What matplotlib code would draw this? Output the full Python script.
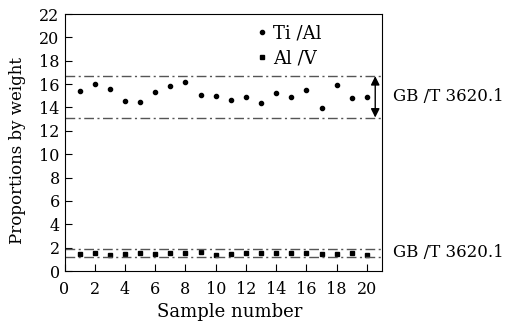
import numpy as np
import matplotlib
matplotlib.use("Agg")
import matplotlib.pyplot as plt

# sample numbers and measured ratios
sample = np.arange(1, 21)
ti_al = [15.45, 16.0, 15.54, 14.57, 14.48, 15.34, 15.83, 16.22, 15.11, 15.02,
         14.68, 14.91, 14.34, 15.28, 14.88, 15.51, 13.99, 15.96, 14.8, 14.88]
al_v = [1.46, 1.57, 1.40, 1.46, 1.54, 1.43, 1.54, 1.51, 1.66, 1.34,
        1.43, 1.51, 1.51, 1.51, 1.51, 1.51, 1.46, 1.43, 1.51, 1.40]

# standard limits (GB/T 3620.1)
ti_al_lim = [13.14, 16.68]
al_v_lim = [1.2, 1.89]
std_label = "GB /T 3620.1"

plt.rcParams['font.family'] = ['DejaVu Serif']
fig = plt.figure(figsize=(5.06, 3.26), dpi=100)
ax = fig.add_axes([0.1275, 0.1687, 0.6275, 0.7883])

ax.plot(sample, ti_al, 'o', color='black', markersize=3, label='Ti /Al')
ax.plot(sample, al_v, 's', color='black', markersize=2.8, label='Al /V')

for lim in ti_al_lim + al_v_lim:
    ax.axhline(lim, color='#555555', lw=1, linestyle=(0, (7, 2.5, 1.5, 2.5)))

# double arrow showing the Ti/Al range
ax.annotate('', xy=(20.55, ti_al_lim[1]), xytext=(20.55, ti_al_lim[0]),
            arrowprops=dict(arrowstyle='<|-|>', color='black', lw=1,
                            mutation_scale=13, shrinkA=0, shrinkB=0))

ax.text(1.035, np.mean(ti_al_lim) / 22, std_label, transform=ax.transAxes,
        va='center', ha='left', fontsize=12)
ax.text(1.035, np.mean(al_v_lim) / 22, std_label, transform=ax.transAxes,
        va='center', ha='left', fontsize=12)

ax.set_xlim(0, 21)
ax.set_ylim(0, 22)
ax.set_xticks(range(0, 21, 2))
ax.set_yticks(range(0, 23, 2))
ax.tick_params(direction='in', length=5, labelsize=11.5, top=False, right=False)
ax.tick_params(axis='x', pad=7)
ax.set_xlabel('Sample number', fontsize=13)
ax.set_ylabel('Proportions by weight', fontsize=12)
ax.xaxis.set_label_coords(0.52, -0.125)
ax.yaxis.set_label_coords(-0.12, 0.47)

ax.legend(loc='upper left', bbox_to_anchor=(0.565, 1.01), frameon=False,
          handlelength=0.6, handletextpad=0.3, fontsize=13,
          borderaxespad=0.3, labelspacing=0.4)

fig.savefig('out.png', dpi=100)
